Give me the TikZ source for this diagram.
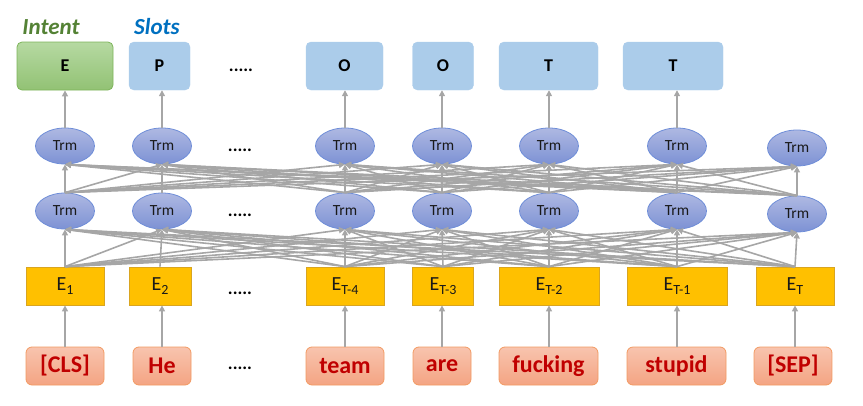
\documentclass[tikz,border=0pt]{standalone}
\usepackage{fontspec}
\setmainfont{Carlito}
\usetikzlibrary{arrows.meta,shapes.geometric}
\definecolor{slotblue}{HTML}{ABCCEA}
\definecolor{inttop}{HTML}{B6D9A2}
\definecolor{intbot}{HTML}{92C274}
\definecolor{intborder}{HTML}{7DB45A}
\definecolor{intenttext}{HTML}{548235}
\definecolor{slottext}{HTML}{0070C0}
\definecolor{trmtop}{HTML}{AEB8E2}
\definecolor{trmbot}{HTML}{7D92D4}
\definecolor{trmborder}{HTML}{6F8ED8}
\definecolor{egold}{HTML}{FFC000}
\definecolor{eborder}{HTML}{D9A520}
\definecolor{toktop}{HTML}{F8C4AE}
\definecolor{tokbot}{HTML}{F4A483}
\definecolor{tokborder}{HTML}{F29A62}
\definecolor{tokred}{HTML}{C00000}
\definecolor{arrgray}{HTML}{A6A6A6}
\newcommand\esub[1]{\raisebox{-3.5pt}{\fontsize{14}{14}\selectfont #1}}
\begin{document}
\begin{tikzpicture}[x=1pt,y=-1pt,
  tbox/.style={rectangle, rounded corners=5pt, minimum height=48pt, inner sep=0pt, font=\fontsize{18}{18}\selectfont\bfseries},
  slotbox/.style={tbox, fill=slotblue, draw=slotblue},
  intentbox/.style={tbox, top color=inttop, bottom color=intbot, draw=intborder, line width=0.8pt},
  trm/.style={ellipse, minimum width=59pt, minimum height=36pt, inner sep=0pt, top color=trmtop, bottom color=trmbot, draw=trmborder, line width=0.8pt, font=\fontsize{15.5}{15.5}\selectfont, text=black!90},
  ebox/.style={rectangle, minimum height=38pt, inner sep=0pt, fill=egold, draw=eborder, line width=0.8pt, font=\fontsize{20}{20}\selectfont, text=black!90},
  tok/.style={rectangle, rounded corners=6pt, minimum height=38pt, inner sep=0pt, top color=toktop, bottom color=tokbot, draw=tokborder, line width=0.8pt, text=tokred, font=\fontsize{24}{24}\selectfont\bfseries},
  dots/.style={font=\fontsize{18}{18}\selectfont\bfseries, inner sep=0pt},
  arr/.style={draw=arrgray, line width=1.6pt, -{Triangle[length=6pt,width=6pt]}},
  lbl/.style={font=\fontsize{23}{23}\selectfont\bfseries\itshape, inner sep=0pt}
]
\useasboundingbox (0,0) rectangle (863,405);

% labels
\node[lbl, text=intenttext] (lintent) at (51,27) {Intent};
\node[lbl, text=slottext] (lslots) at (157,27) {Slots};

% top boxes
\node[intentbox, minimum width=96pt] (o1) at (65,66) {E};
\node[slotbox, minimum width=61pt] (o2) at (159.5,66) {P};
\node[slotbox, minimum width=77pt] (o3) at (344.5,66) {O};
\node[slotbox, minimum width=61pt] (o4) at (443,66) {O};
\node[slotbox, minimum width=99pt] (o5) at (548.5,66) {T};
\node[slotbox, minimum width=100pt] (o6) at (673,66) {T};

% upper Trm
\node[trm] (u1) at (65,146) {Trm};
\node[trm] (u2) at (162,146) {Trm};
\node[trm] (u3) at (345,146) {Trm};
\node[trm] (u4) at (442,146) {Trm};
\node[trm] (u5) at (549,146) {Trm};
\node[trm] (u6) at (677,146) {Trm};
\node[trm] (u7) at (797,148) {Trm};

% lower Trm
\node[trm] (l1) at (65,211) {Trm};
\node[trm] (l2) at (162,211) {Trm};
\node[trm] (l3) at (345,211) {Trm};
\node[trm] (l4) at (442,211) {Trm};
\node[trm] (l5) at (549,211) {Trm};
\node[trm] (l6) at (677,211) {Trm};
\node[trm] (l7) at (797,214) {Trm};

% embeddings
\node[ebox, minimum width=78pt] (e1) at (65,286) {E\esub{1}};
\node[ebox, minimum width=62pt] (e2) at (160,286) {E\esub{2}};
\node[ebox, minimum width=78pt] (e3) at (345,286) {E\esub{T-4}};
\node[ebox, minimum width=61pt] (e4) at (443,286) {E\esub{T-3}};
\node[ebox, minimum width=100pt] (e5) at (549,286) {E\esub{T-2}};
\node[ebox, minimum width=100pt] (e6) at (677,286) {E\esub{T-1}};
\node[ebox, minimum width=78pt] (e7) at (795,286) {E\esub{T}};

% tokens
\node[tok, minimum width=78pt] (t1) at (65,366) {[CLS]};
\node[tok, minimum width=58pt] (t2) at (162,366) {He};
\node[tok, minimum width=78pt] (t3) at (345,366) {team};
\node[tok, minimum width=58pt] (t4) at (442,366) {are};
\node[tok, minimum width=99pt] (t5) at (548.5,366) {fucking};
\node[tok, minimum width=99pt] (t6) at (676.5,366) {stupid};
\node[tok, minimum width=78pt] (t7) at (793,366) {[SEP]};

% dots
\node[dots] (d1) at (241,70) {.....};
\node[dots] (d2) at (240,150) {.....};
\node[dots] (d3) at (240,215) {.....};
\node[dots] (d4) at (240,293) {.....};
\node[dots] (d5) at (240,368) {.....};

% token -> embedding
\foreach \i/\x in {1/65,2/162,3/345,4/442,5/549,6/677,7/795} {
  \draw[arr] (\x,0 |- t\i.north) -- (\x,0 |- e\i.south);
}
% embedding -> lower Trm
\foreach \s in {1,3,4,5,6,7} {
  \foreach \t in {1,...,7} {
    \draw[arr] (e\s.north) -- (l\t.south);
  }
}
\draw[arr] (e2.north) -- (l2.south);
% lower Trm -> upper Trm
\foreach \s in {1,3,4,5,6,7} {
  \foreach \t in {1,...,7} {
    \draw[arr] (l\s.north) -- (u\t.south);
  }
}
\draw[arr] (l2.north) -- (u2.south);
% upper Trm -> outputs
\foreach \i in {1,...,6} {
  \draw[arr] (u\i.north) -- (o\i.south -| u\i.north);
}
\end{tikzpicture}
\end{document}
